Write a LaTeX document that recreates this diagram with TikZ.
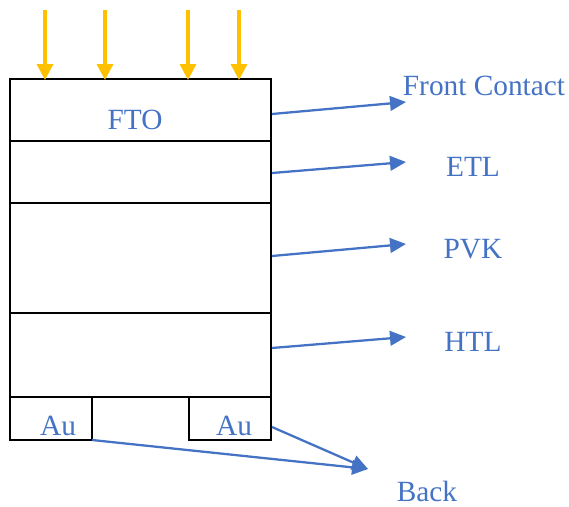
\documentclass[tikz,border=0pt]{standalone}
\usepackage{fontspec}
\setmainfont{Liberation Serif}
\usetikzlibrary{arrows.meta}
\definecolor{lblue}{HTML}{4472C4}
\definecolor{sun}{HTML}{FFC000}
\tikzset{
	layer/.style={draw=black,line width=1.8pt},
	light/.style={draw=sun,line width=2.5pt,-{Triangle[length=12pt,width=12pt]}},
	pointer/.style={draw=lblue,line width=1.7pt,-{Triangle[length=12pt,width=11pt]}},
	tag/.style={text=lblue,font=\fontsize{22}{26}\selectfont,inner sep=0pt}
}
\begin{document}
\begin{tikzpicture}[x=.75pt,y=-.75pt]
	\useasboundingbox (0,0) rectangle (569,507);
		% stack of layers
			\draw[layer] (10,79) rectangle (271,397);
			\foreach \y in {141,203,313}{
				\draw[layer] (10,\y) -- (271,\y);
				}
		% back electrodes
			\draw[layer] (10,397) rectangle (92,440);
			\draw[layer] (189,397) rectangle (271,440);
			\node[tag] (fto) at (135,120) {FTO};
			\node[tag] (au-l) at (58,426) {Au};
			\node[tag] (au-r) at (234,426) {Au};
		% incoming light
			\foreach \x in {45,105,188,239}{
				\draw[light] (\x,10) -- (\x,80);
				}
		% labels
			\node[tag] (front) at (484,86) {Front Contact};
			\node[tag] (etl) at (473,167) {ETL};
			\node[tag] (pvk) at (473,249) {PVK};
			\node[tag] (htl) at (473,342) {HTL};
			\node[tag] (back) at (427,491) {Back};
		% pointers
		 \path	(272,114) coordinate (front-s)
		 		(406,102) coordinate (front-e)
		 		(272,173) coordinate (etl-s)
		 		(406,162) coordinate (etl-e)
		 		(272,256) coordinate (pvk-s)
		 		(406,244) coordinate (pvk-e)
		 		(272,348) coordinate (htl-s)
		 		(406,337) coordinate (htl-e)
		 		(272,427) coordinate (back-r)
		 		(92,440) coordinate (back-l)
		 		(368,469) coordinate (back-e);
			\foreach \n in {front,etl,pvk,htl}{
				\draw[pointer] (\n-s) -- (\n-e);
				}
			\draw[pointer] (back-r) -- (back-e);
			\draw[pointer] (back-l) -- (back-e);
	\end{tikzpicture}
\end{document}
